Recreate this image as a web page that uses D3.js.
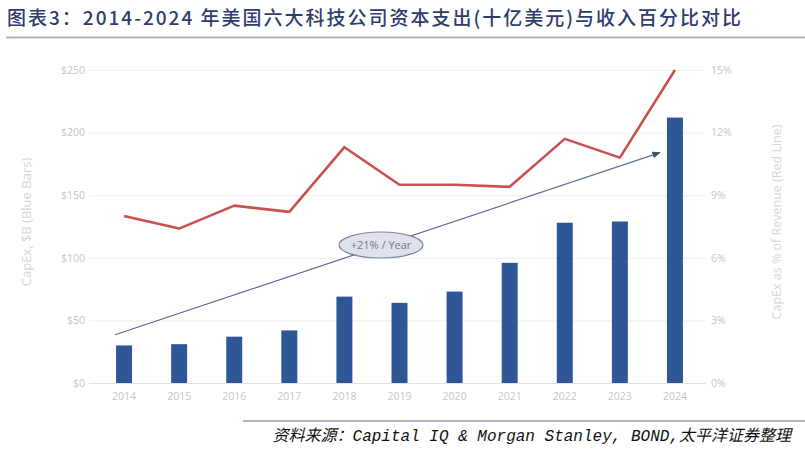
<!DOCTYPE html>
<html>
<head>
<meta charset="utf-8">
<script src="https://cdn.jsdelivr.net/npm/d3@7"></script>
<style>
  body { margin: 0; background: #fff; }
  svg { display: block; }
</style>
</head>
<body>
<div id="chart"></div>
<script>
// values
const years = ["2014", "2015", "2016", "2017", "2018", "2019", "2020", "2021", "2022", "2023", "2024"];
const capex = [30, 31, 37, 42, 69, 64, 73, 96, 128, 129, 212];          // $B, blue bars
const capexPct = [8.0, 7.4, 8.5, 8.2, 11.3, 9.5, 9.5, 9.4, 11.7, 10.8, 15.0]; // % of revenue, red line
const leftTicks = [0, 50, 100, 150, 200, 250];
const rightTicks = [0, 3, 6, 9, 12, 15];

const W = 805, H = 450;
const svg = d3.select("#chart").append("svg")
    .attr("width", W).attr("height", H);

// title + rule
svg.append("text")
    .attr("x", 7).attr("y", 25)
    .attr("fill", "#2e3d6e")
    .style("font-family", "'Noto Sans CJK SC', sans-serif")
    .style("font-size", "19px")
    .style("font-weight", 500)
    .style("letter-spacing", "2px")
    .text("图表3：2014-2024 年美国六大科技公司资本支出(十亿美元)与收入百分比对比");

svg.append("line")
    .attr("x1", 6).attr("x2", W).attr("y1", 37.5).attr("y2", 37.5)
    .attr("stroke", "#b1b1cb").attr("stroke-width", 2);

const x = d3.scaleBand().domain(years).range([96.5, 702.5])
    .paddingInner(0.71).paddingOuter(0.355);
const y = d3.scaleLinear().domain([0, 250]).range([383, 70]);
const y2 = d3.scaleLinear().domain([0, 15]).range([383, 70]);

const tickColor = "#c6c6c6";
const tickFont = "'Open Sans', 'Liberation Sans', sans-serif";

// gridlines
svg.append("g").selectAll("line").data(leftTicks).join("line")
    .attr("x1", 89).attr("x2", 706)
    .attr("y1", d => y(d) + 0.5).attr("y2", d => y(d) + 0.5)
    .attr("stroke", d => d === 0 ? "#e2e2e2" : "#efefef").attr("stroke-width", 1);

// left axis
const leftAxis = svg.append("g").attr("transform", "translate(89,0)")
    .call(d3.axisLeft(y).tickValues(leftTicks).tickSize(0).tickPadding(4).tickFormat(d => "$" + d));
leftAxis.select(".domain").remove();
leftAxis.selectAll("text").attr("fill", tickColor).style("font-size", "10.5px").style("font-family", tickFont);

// right axis
const rightAxis = svg.append("g").attr("transform", "translate(706,0)")
    .call(d3.axisRight(y2).tickValues(rightTicks).tickSize(0).tickPadding(5).tickFormat(d => d + "%"));
rightAxis.select(".domain").remove();
rightAxis.selectAll("text").attr("fill", tickColor).style("font-size", "10.5px").style("font-family", tickFont);

// bottom axis
const bottomAxis = svg.append("g").attr("transform", "translate(0,383)")
    .call(d3.axisBottom(x).tickSize(0).tickPadding(10));
bottomAxis.select(".domain").remove();
bottomAxis.selectAll("text").attr("fill", tickColor).style("font-size", "10.5px").style("font-family", tickFont);

// axis titles
svg.append("text")
    .attr("transform", "translate(31,222) rotate(-90)")
    .attr("text-anchor", "middle")
    .attr("fill", "#d6d6d6")
    .style("font-family", tickFont).style("font-size", "13px")
    .text("CapEx, $B (Blue Bars)");

svg.append("text")
    .attr("transform", "translate(781,222) rotate(-90)")
    .attr("text-anchor", "middle")
    .attr("fill", "#d6d6d6")
    .style("font-family", tickFont).style("font-size", "12.5px")
    .text("CapEx as % of Revenue (Red Line)");

// bars
svg.append("g").selectAll("rect").data(capex).join("rect")
    .attr("x", (d, i) => x(years[i]))
    .attr("y", d => y(d))
    .attr("width", x.bandwidth())
    .attr("height", d => y(0) - y(d))
    .attr("fill", "#2f5696");

// trend arrow (+21% / year)
const defs = svg.append("defs");
defs.append("marker")
    .attr("id", "arrow").attr("viewBox", "0 0 10 10")
    .attr("refX", 9).attr("refY", 5)
    .attr("markerWidth", 7).attr("markerHeight", 7)
    .attr("orient", "auto")
    .append("path").attr("d", "M0,1 L10,5 L0,9 Z").attr("fill", "#3d5170");

const trendStart = [x("2014") - 1, y(38.5)];
const trendEnd = [x("2024") - 7, y(184)];
svg.append("line")
    .attr("x1", trendStart[0]).attr("y1", trendStart[1])
    .attr("x2", trendEnd[0]).attr("y2", trendEnd[1])
    .attr("stroke", "#5d6f8c").attr("stroke-width", 1.2)
    .attr("marker-end", "url(#arrow)");

const ex = 381, ey = 245;
svg.append("ellipse")
    .attr("cx", ex).attr("cy", ey).attr("rx", 42).attr("ry", 13)
    .attr("fill", "#dde2ec").attr("stroke", "#7e889a").attr("stroke-width", 1.2);
svg.append("text")
    .attr("x", ex).attr("y", ey + 4)
    .attr("text-anchor", "middle")
    .attr("fill", "#7a7a7a")
    .style("font-family", tickFont).style("font-size", "11px")
    .text("+21% / Year");

// red line
const line = d3.line()
    .x((d, i) => x(years[i]) + x.bandwidth() / 2)
    .y(d => y2(d));
svg.append("path")
    .datum(capexPct)
    .attr("d", line)
    .attr("fill", "none")
    .attr("stroke", "#c9514f")
    .attr("stroke-width", 2.6)
    .attr("stroke-linejoin", "round");

// footer
svg.append("line")
    .attr("x1", 243).attr("x2", W).attr("y1", 421).attr("y2", 421)
    .attr("stroke", "#9a9ab8").attr("stroke-width", 1.5);

svg.append("text")
    .attr("x", 791).attr("y", 441)
    .attr("text-anchor", "end")
    .attr("fill", "#111")
    .style("font-family", "'Liberation Mono', 'Noto Sans CJK SC', monospace")
    .style("font-style", "italic")
    .style("font-size", "16px")
    .text("资料来源：Capital IQ & Morgan Stanley, BOND,太平洋证券整理");
</script>
</body>
</html>
